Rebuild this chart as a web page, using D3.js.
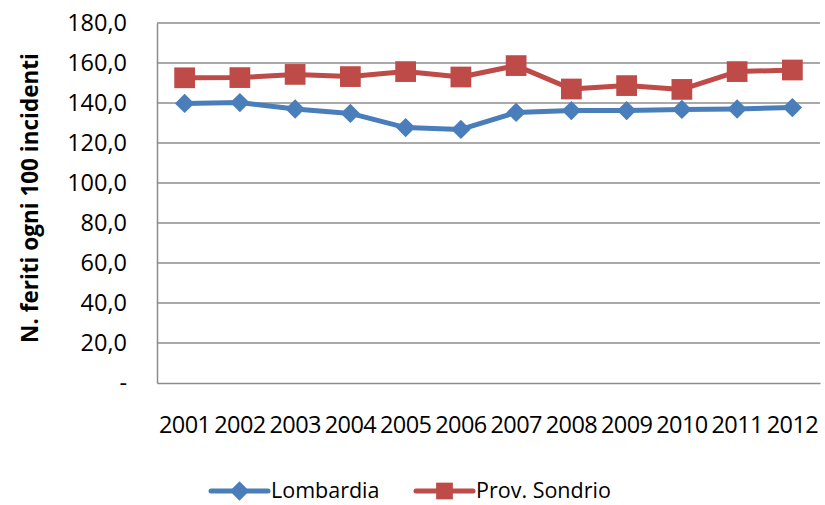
<!DOCTYPE html>
<html><head><meta charset="utf-8">
<script src="https://cdn.jsdelivr.net/npm/d3@7"></script>
<style>body{margin:0;background:#fff}svg{display:block}</style>
</head><body>
<svg id="c" width="825" height="505"></svg>
<script>
const years = ["2001","2002","2003","2004","2005","2006","2007","2008","2009","2010","2011","2012"];
const lombardia = [139.8,140.2,137.0,134.8,127.7,126.8,135.3,136.2,136.2,136.8,137.0,137.7];
const sondrio = [152.6,152.7,154.3,153.2,155.7,153.0,158.7,147.0,148.7,146.8,155.7,156.5];
const yTicks = [0,20,40,60,80,100,120,140,160,180];
const yTitle = "N. feriti ogni 100 incidenti";
const seriesNames = ["Lombardia","Prov. Sondrio"];

const svg = d3.select("#c");
const L = 157, R = 820, T = 23, B = 383;
const font = "'Open Sans', sans-serif";
const x = d3.scaleBand().domain(years).range([L, R]);
const y = d3.scaleLinear().domain([0,180]).range([B, T]);
const blue = "#4A7EBB", red = "#BE4B48", grid = "#8c8c8c";

// gridlines
svg.append("g").selectAll("line").data(yTicks.filter(d=>d>0)).join("line")
  .attr("x1", L).attr("x2", R).attr("y1", d=>y(d)).attr("y2", d=>y(d))
  .attr("stroke", grid).attr("stroke-width", 1.5);

// y axis
const ya = svg.append("g").attr("transform", `translate(${L},0)`)
  .call(d3.axisLeft(y).tickValues(yTicks).tickSize(0).tickPadding(30)
    .tickFormat(d => d === 0 ? "-" : d3.format(".1f")(d).replace(".", ",")));
ya.select(".domain").attr("stroke", grid).attr("stroke-width", 1.5);
ya.selectAll("text").attr("font-family", font).attr("font-size", 23.5).attr("fill", "#000");

// x axis
const xa = svg.append("g").attr("transform", `translate(0,${B})`)
  .call(d3.axisBottom(x).tickSize(0).tickPadding(33));
xa.select(".domain").attr("stroke", grid).attr("stroke-width", 1.5);
xa.selectAll("text").attr("font-family", font).attr("font-size", 23.5).attr("fill", "#000")
  .attr("letter-spacing", -0.6);

// y title
svg.append("text").attr("transform", `translate(38,198) rotate(-90)`)
  .attr("text-anchor","middle").attr("font-family", font).attr("font-weight","bold")
  .attr("font-size", 22.5).text(yTitle);

const line = d3.line().x((d,i)=>x(years[i]) + x.bandwidth()/2).y(d=>y(d));
const diamond = d3.symbol().type(d3.symbolDiamond2).size(240);
const square = d3.symbol().type(d3.symbolSquare).size(430);

function drawSeries(data, color, sym) {
  svg.append("path").datum(data).attr("d", line).attr("fill","none")
    .attr("stroke", color).attr("stroke-width", 5).attr("stroke-linejoin","round");
  svg.append("g").selectAll("path").data(data).join("path")
    .attr("transform", (d,i)=>`translate(${x(years[i]) + x.bandwidth()/2},${y(d)})`)
    .attr("d", sym).attr("fill", color);
}
drawSeries(lombardia, blue, diamond);
drawSeries(sondrio, red, square);

// legend
const leg = [{name: seriesNames[0], color: blue, sym: diamond, x0: 211},
             {name: seriesNames[1], color: red, sym: d3.symbol().type(d3.symbolSquare).size(280), x0: 416}];
const ly = 491;
leg.forEach(l => {
  const g = svg.append("g");
  g.append("line").attr("x1", l.x0).attr("x2", l.x0+57).attr("y1", ly).attr("y2", ly)
    .attr("stroke", l.color).attr("stroke-width", 5).attr("stroke-linecap","round");
  g.append("path").attr("transform", `translate(${l.x0+28.5},${ly})`).attr("d", l.sym).attr("fill", l.color);
  g.append("text").attr("x", l.x0+60).attr("y", ly).attr("dy","0.33em")
    .attr("font-family", font).attr("font-size", 21.5).text(l.name);
});
</script>
</body></html>
